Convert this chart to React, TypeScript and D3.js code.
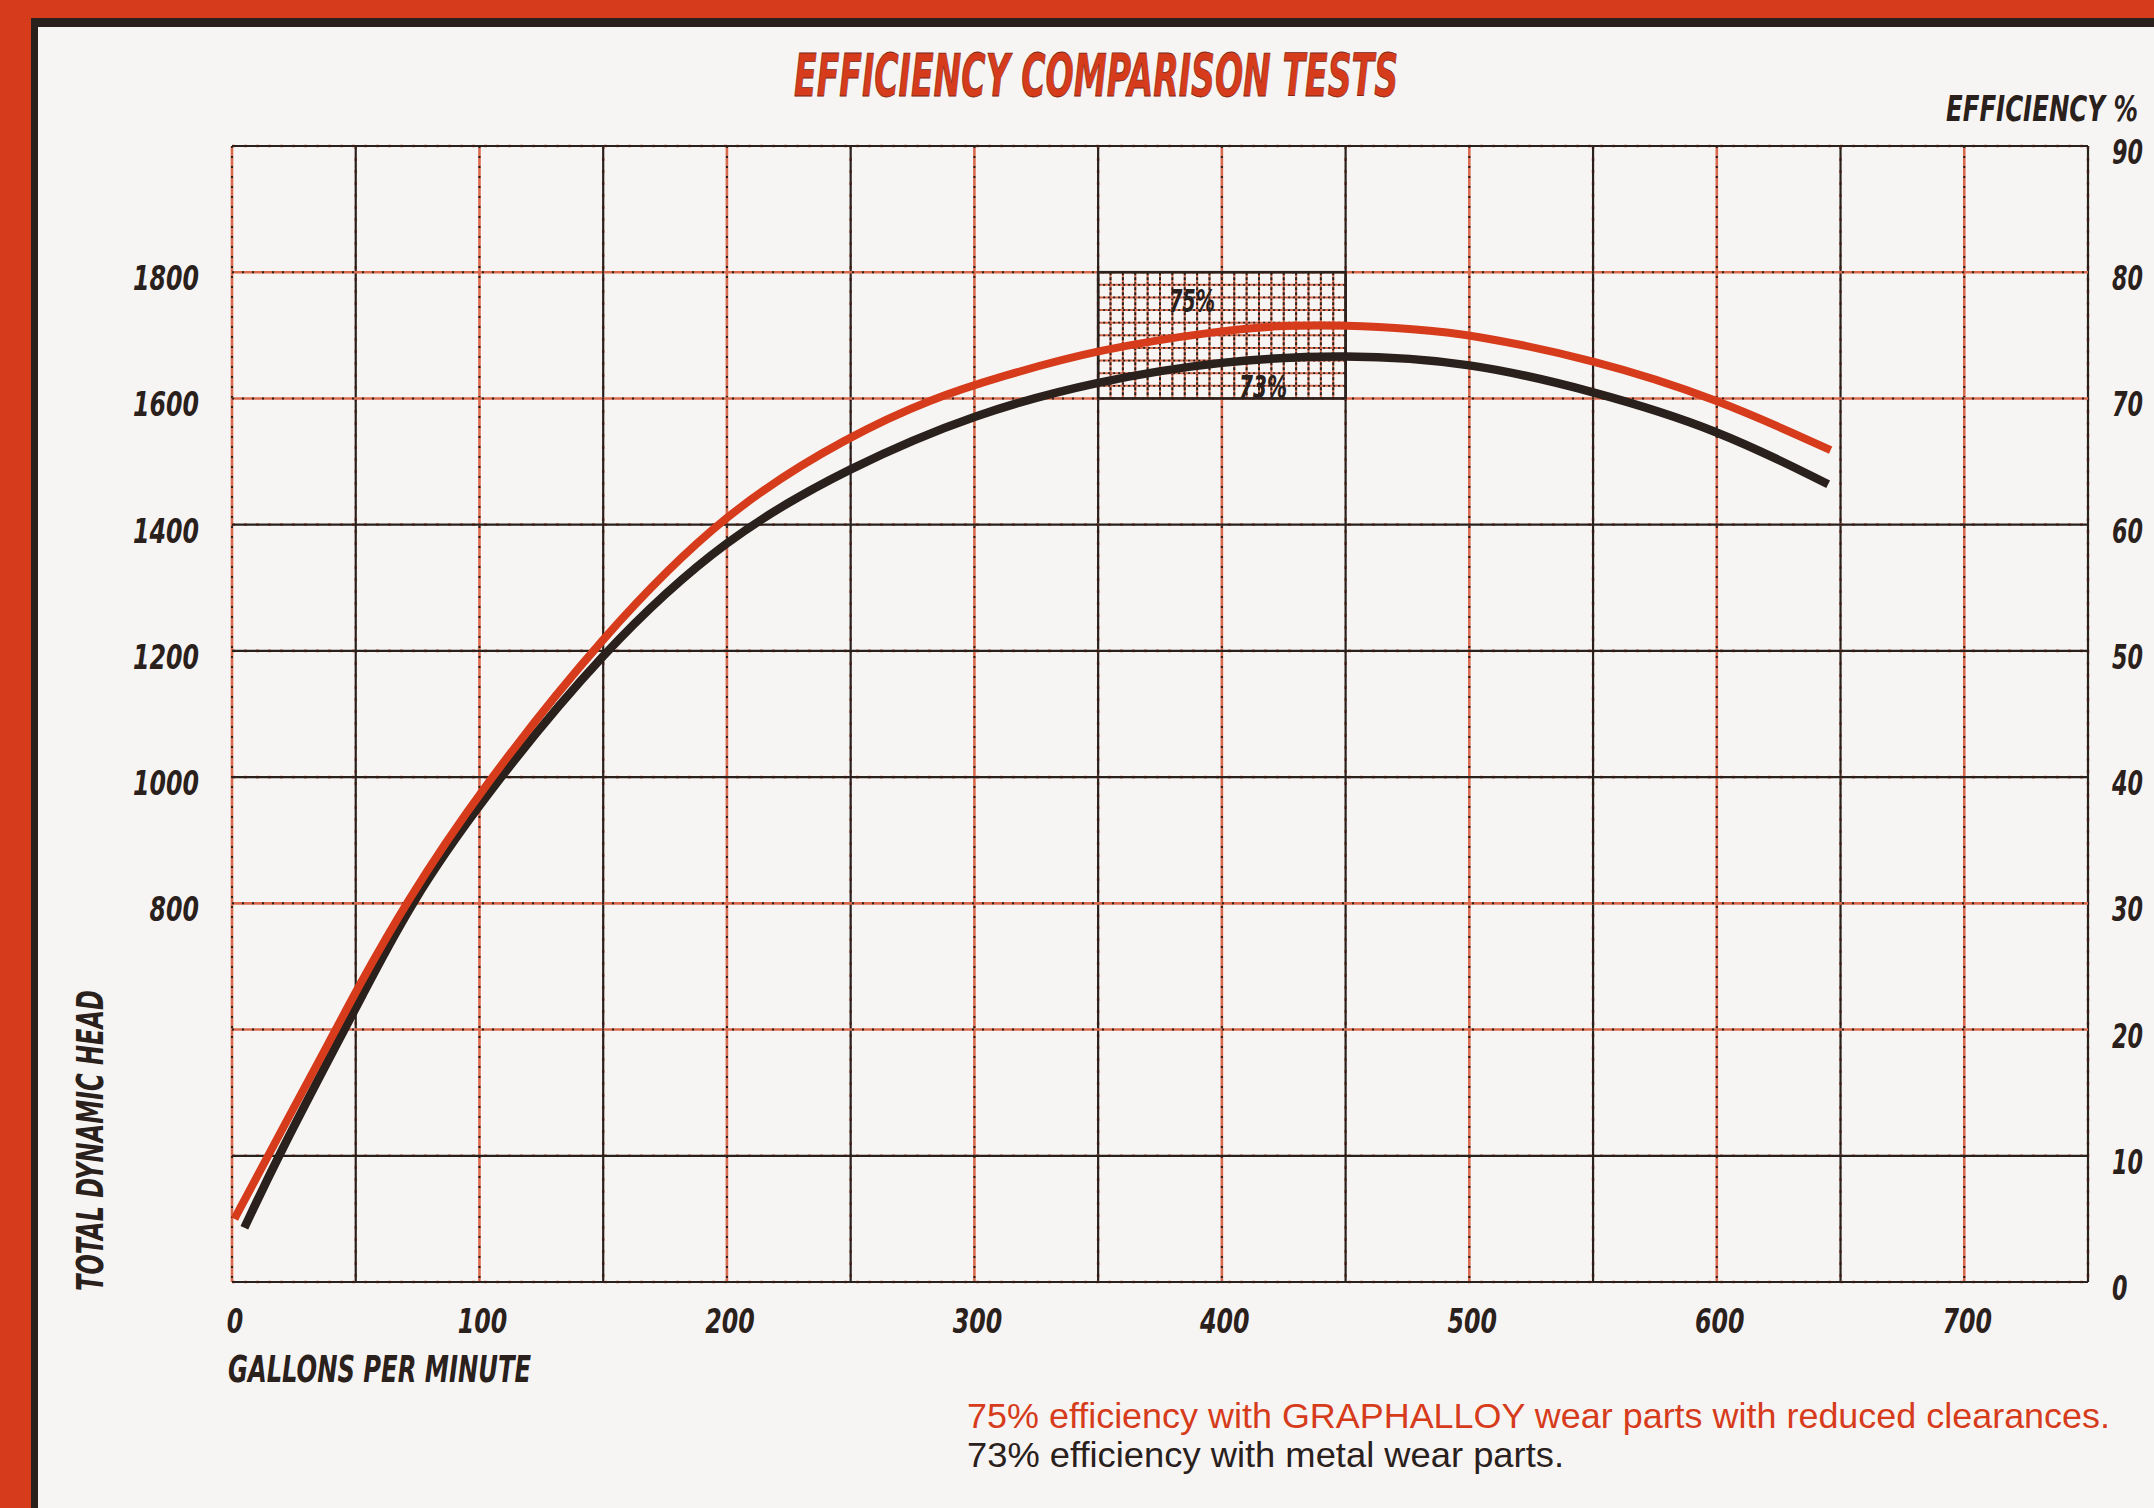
import * as d3 from "d3"

const W = 2154
const H = 1508

const GPM_TICKS = [0, 100, 200, 300, 400, 500, 600, 700]
const HEAD_TICKS = [800, 1000, 1200, 1400, 1600, 1800]
const EFF_TICKS = [0, 10, 20, 30, 40, 50, 60, 70, 80, 90]

// GRAPHALLOY wear parts (red curve)
const GRAPH_GPM = [1, 14.5, 42, 50, 70, 100, 150, 200, 250, 283, 310, 350, 400, 425, 450, 478, 500, 550, 600, 646]
const GRAPH_EFF = [5.0, 10.0, 20.0, 23.0, 30.0, 38.9, 51.3, 61.2, 67.1, 70.0, 71.7, 73.9, 75.4, 75.8, 75.8, 75.5, 75.1, 73.1, 70.0, 65.9]

// metal wear parts (black curve)
const METAL_GPM = [5, 18.7, 45.4, 50, 72, 100, 150, 200, 250, 300, 350, 400, 450, 500, 550, 600, 645]
const METAL_EFF = [4.3, 10.0, 20.0, 21.7, 30.0, 38.0, 50.1, 59.1, 64.6, 68.8, 71.4, 73.0, 73.5, 72.9, 70.6, 67.6, 63.2]

const PEAK_GPM = [350, 450]
const PEAK_EFF = [70, 80]

const RED = "#d63c1c"
const GRID_RED = "#d9694d"
const INK = "#2a201c"
const PAPER = "#f7f5f3"

// rows that print mostly black; the others are red with black specks
const DARK_ROWS = [0, 10, 40, 50, 60, 90]

const heavy = {
  fontFamily: "'Liberation Sans Narrow', 'DejaVu Sans Condensed', 'Liberation Sans', Arial, sans-serif",
  fontWeight: 700,
  fontStyle: "italic" as const,
}

function GridLine({ x1, y1, x2, y2, dark }: { x1: number; y1: number; x2: number; y2: number; dark: boolean }) {
  if (dark) {
    return (
      <g>
        <line x1={x1} y1={y1} x2={x2} y2={y2} stroke={GRID_RED} strokeWidth={2.6} strokeDasharray="3 9" />
        <line x1={x1} y1={y1} x2={x2} y2={y2} stroke={INK} strokeWidth={2.2} />
      </g>
    )
  }
  return (
    <g>
      <line x1={x1} y1={y1} x2={x2} y2={y2} stroke={GRID_RED} strokeWidth={2.6} />
      <line x1={x1} y1={y1} x2={x2} y2={y2} stroke={INK} strokeWidth={2} strokeDasharray="2 8" />
    </g>
  )
}

export default function App() {
  const x = d3.scaleLinear().domain([0, 750]).range([232, 2088])
  const eff = d3.scaleLinear().domain([0, 90]).range([1282, 146])
  const head = d3.scaleLinear().domain([200, 2000]).range([1282, 146])

  const cols = d3.range(0, 751, 50)
  const line = d3
    .line<[number, number]>()
    .x((d) => x(d[0]))
    .y((d) => eff(d[1]))
    .curve(d3.curveBasis)

  const graph = line(GRAPH_GPM.map((g, i) => [g, GRAPH_EFF[i]]) as [number, number][]) ?? ""
  const metal = line(METAL_GPM.map((g, i) => [g, METAL_EFF[i]]) as [number, number][]) ?? ""

  const [g0, g1] = PEAK_GPM
  const [e0, e1] = PEAK_EFF
  const fineCols = d3.range(g0 + 5, g1, 5)
  const fineRows = d3.range(e0 + 1, e1, 1)

  return (
    <svg width={W} height={H} style={{ position: "absolute", left: 0, top: 0, background: PAPER }}>
      <rect x={0} y={0} width={W} height={H} fill={PAPER} />

      {/* frame */}
      <rect x={0} y={0} width={W} height={18} fill={RED} />
      <rect x={0} y={0} width={31} height={H} fill={RED} />
      <rect x={31} y={18} width={W - 31} height={9} fill={INK} />
      <rect x={31} y={18} width={7} height={H - 18} fill={INK} />

      <text x={1096} y={96} fill={RED} fontSize={58} textAnchor="middle" textLength={604} lengthAdjust="spacingAndGlyphs" style={heavy} stroke="#7a2614" strokeWidth={0.8}>
        EFFICIENCY COMPARISON TESTS
      </text>

      {/* grid */}
      {cols.map((c, j) => (
        <GridLine key={"c" + c} x1={x(c)} y1={eff(90)} x2={x(c)} y2={eff(0)} dark={j % 2 === 1} />
      ))}
      {EFF_TICKS.map((e) => (
        <GridLine key={"r" + e} x1={x(0)} y1={eff(e)} x2={x(750)} y2={eff(e)} dark={DARK_ROWS.includes(e)} />
      ))}

      {/* fine grid around the best efficiency point */}
      <g>
        {fineCols.map((c) => (
          <g key={"fc" + c}>
            <line x1={x(c)} y1={eff(e1)} x2={x(c)} y2={eff(e0)} stroke={GRID_RED} strokeWidth={2} />
            <line x1={x(c)} y1={eff(e1)} x2={x(c)} y2={eff(e0)} stroke={INK} strokeWidth={2} strokeDasharray="3 2" />
          </g>
        ))}
        {fineRows.map((e) => (
          <g key={"fr" + e}>
            <line x1={x(g0)} y1={eff(e)} x2={x(g1)} y2={eff(e)} stroke={GRID_RED} strokeWidth={2} />
            <line x1={x(g0)} y1={eff(e)} x2={x(g1)} y2={eff(e)} stroke={INK} strokeWidth={1.8} strokeDasharray="2 3" />
          </g>
        ))}
        <rect x={x(g0)} y={eff(e1)} width={x(g1) - x(g0)} height={eff(e0) - eff(e1)} fill="none" stroke={INK} strokeWidth={2.6} />
      </g>

      {/* curves */}
      <path d={metal} fill="none" stroke={INK} strokeWidth={8.5} />
      <path d={graph} fill="none" stroke={RED} strokeWidth={8} />

      <text x={1192} y={312} fill={INK} fontSize={32} textAnchor="middle" textLength={46} lengthAdjust="spacingAndGlyphs" style={heavy}>
        75%
      </text>
      <text x={1263} y={398} fill={INK} fontSize={32} textAnchor="middle" textLength={48} lengthAdjust="spacingAndGlyphs" style={heavy}>
        73%
      </text>

      {/* left axis: total dynamic head */}
      {HEAD_TICKS.map((h) => (
        <text key={"h" + h} x={199} y={head(h) + 18} fill={INK} fontSize={34} textAnchor="end" textLength={String(h).length * 16.5} lengthAdjust="spacingAndGlyphs" style={heavy}>
          {h}
        </text>
      ))}
      <text transform="translate(103,1291) rotate(-90)" fill={INK} fontSize={37} textLength={301} lengthAdjust="spacingAndGlyphs" style={heavy}>
        TOTAL DYNAMIC HEAD
      </text>

      {/* right axis: efficiency */}
      {EFF_TICKS.map((e) => (
        <text key={"e" + e} x={2112} y={eff(e) + 18} fill={INK} fontSize={34} textLength={String(e).length * 15.5} lengthAdjust="spacingAndGlyphs" style={heavy}>
          {e}
        </text>
      ))}
      <text x={2138} y={121} fill={INK} fontSize={36} textAnchor="end" textLength={192} lengthAdjust="spacingAndGlyphs" style={heavy}>
        EFFICIENCY %
      </text>

      {/* bottom axis: flow */}
      {GPM_TICKS.map((g) => (
        <text key={"g" + g} x={x(g) + 3} y={1333} fill={INK} fontSize={34} textAnchor="middle" textLength={String(g).length * 16.5} lengthAdjust="spacingAndGlyphs" style={heavy}>
          {g}
        </text>
      ))}
      <text x={228} y={1382} fill={INK} fontSize={37} textLength={303} lengthAdjust="spacingAndGlyphs" style={heavy}>
        GALLONS PER MINUTE
      </text>

      {/* notes */}
      <text x={967} y={1428} fill={RED} fontSize={35} textLength={1143} lengthAdjust="spacingAndGlyphs" fontFamily="'Liberation Sans', Arial, sans-serif">
        75% efficiency with GRAPHALLOY wear parts with reduced clearances.
      </text>
      <text x={967} y={1467} fill={INK} fontSize={35} textLength={597} lengthAdjust="spacingAndGlyphs" fontFamily="'Liberation Sans', Arial, sans-serif">
        73% efficiency with metal wear parts.
      </text>
    </svg>
  )
}
